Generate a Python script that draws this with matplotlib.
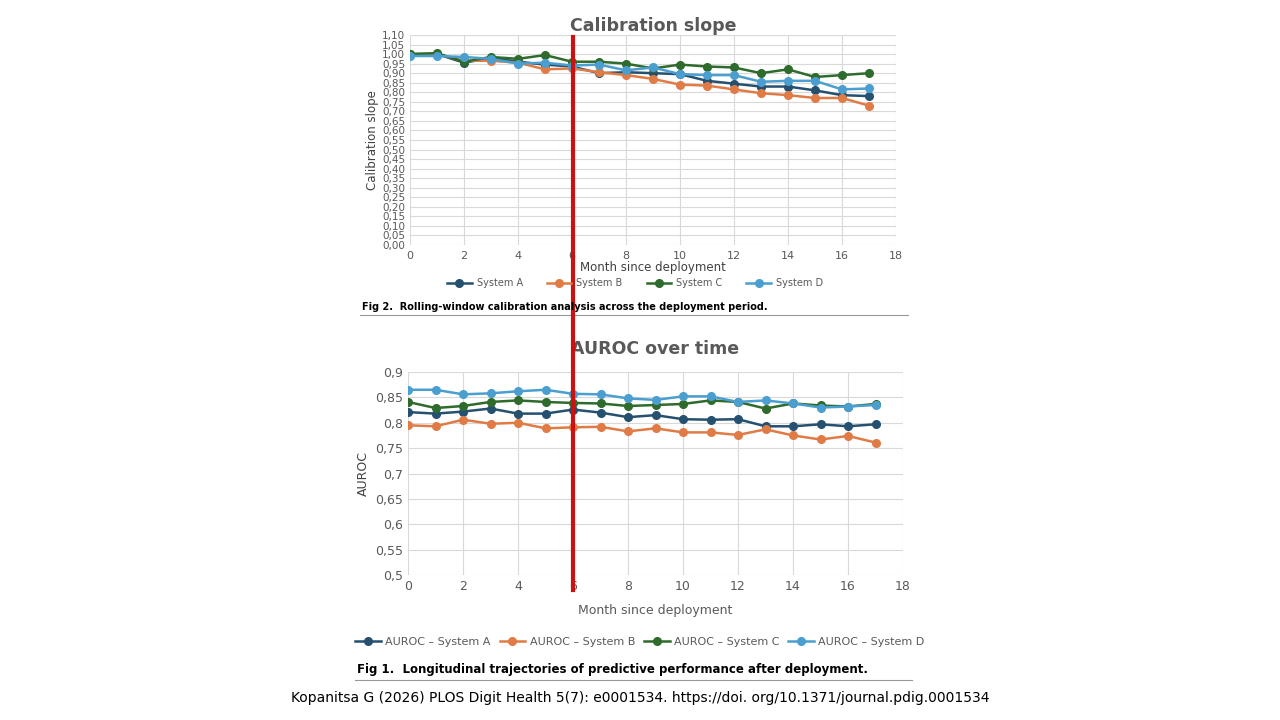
import matplotlib
matplotlib.use("Agg")
import matplotlib.pyplot as plt
from matplotlib.ticker import FuncFormatter, MultipleLocator

months = list(range(18))
cal_A = [1.00,1.00,0.955,0.98,0.96,0.945,0.935,0.90,0.905,0.90,0.895,0.86,0.845,0.83,0.83,0.81,0.785,0.78]
cal_B = [1.00,1.00,0.965,0.965,0.955,0.92,0.925,0.905,0.89,0.87,0.84,0.835,0.815,0.795,0.785,0.77,0.77,0.73]
cal_C = [1.00,1.005,0.96,0.985,0.975,0.995,0.96,0.96,0.95,0.925,0.945,0.935,0.93,0.90,0.92,0.88,0.89,0.90]
cal_D = [0.99,0.99,0.985,0.975,0.95,0.955,0.94,0.945,0.915,0.93,0.895,0.89,0.89,0.855,0.86,0.86,0.815,0.82]
au_A = [0.821,0.818,0.822,0.828,0.818,0.818,0.826,0.820,0.811,0.815,0.807,0.806,0.807,0.793,0.793,0.797,0.793,0.797]
au_B = [0.795,0.793,0.806,0.798,0.800,0.789,0.791,0.792,0.783,0.789,0.781,0.781,0.776,0.787,0.775,0.767,0.774,0.761]
au_C = [0.841,0.829,0.833,0.841,0.844,0.841,0.839,0.838,0.833,0.835,0.837,0.844,0.841,0.828,0.838,0.834,0.832,0.837]
au_D = [0.865,0.865,0.856,0.858,0.862,0.865,0.857,0.856,0.848,0.845,0.852,0.852,0.841,0.844,0.838,0.830,0.832,0.835]
colors = ["#25506f", "#e07b45", "#2e6b2c", "#4a9fd0"]
cal_names = ["System A", "System B", "System C", "System D"]
au_names = ["AUROC – System A", "AUROC – System B", "AUROC – System C", "AUROC – System D"]

W, H = 1280, 720
fig = plt.figure(figsize=(12.8, 7.2), dpi=100)
def box(x0, y0, x1, y1):
    return [x0/W, 1-y1/H, (x1-x0)/W, (y1-y0)/H]
comma = FuncFormatter(lambda v, p: f"{v:.2f}".replace(".", ","))
comma_s = FuncFormatter(lambda v, p: (f"{v:.2f}".rstrip("0").rstrip(".") if v != 0.5 else "0,5").replace(".", ","))
gc = "#d9d9d9"; tc = "#595959"

def style(ax):
    for s in ax.spines.values(): s.set_visible(False)
    ax.grid(True, color=gc, lw=0.8)
    ax.tick_params(length=0, colors=tc, labelsize=8)
    ax.set_xlim(0, 18); ax.xaxis.set_major_locator(MultipleLocator(2))
    ax.set_axisbelow(True)

ax1 = fig.add_axes(box(410, 35, 896, 245))
style(ax1)
for v, c, n in zip([cal_A, cal_B, cal_C, cal_D], colors, cal_names):
    ax1.plot(months, v, color=c, marker="o", ms=5.5, lw=1.8, label=n)
ax1.set_ylim(0, 1.10); ax1.yaxis.set_major_locator(MultipleLocator(0.05))
ax1.yaxis.set_major_formatter(comma)
ax1.tick_params(axis="y", labelsize=7.5)
ax1.tick_params(axis="x", pad=4)
ax1.set_title("Calibration slope", fontsize=12.5, fontweight="bold", color=tc, pad=2)
ax1.set_ylabel("Calibration slope", fontsize=8.5, color="#404040", labelpad=2)
ax1.set_xlabel("Month since deployment", fontsize=8.5, color="#404040", labelpad=0)
fig.legend(*ax1.get_legend_handles_labels(), loc="center", bbox_to_anchor=(635/W, 1-283/H), ncol=4,
           frameon=False, fontsize=7, labelcolor=tc, handlelength=2.5, columnspacing=2.5, handletextpad=0.5)

ax2 = fig.add_axes(box(408, 372, 903, 575))
style(ax2)
for v, c, n in zip([au_A, au_B, au_C, au_D], colors, au_names):
    ax2.plot(months, v, color=c, marker="o", ms=5.5, lw=1.8, label=n)
ax2.set_ylim(0.5, 0.9); ax2.yaxis.set_major_locator(MultipleLocator(0.05))
ax2.yaxis.set_major_formatter(comma_s)
ax2.tick_params(labelsize=9)
ax2.set_title("AUROC over time", fontsize=12.5, fontweight="bold", color=tc, pad=13)
ax2.set_ylabel("AUROC", fontsize=9, color="#404040")
ax2.set_xlabel("Month since deployment", fontsize=9, color=tc, labelpad=8)
fig.legend(*ax2.get_legend_handles_labels(), loc="center", bbox_to_anchor=(640/W, 1-642/H), ncol=4,
           frameon=False, fontsize=8, labelcolor=tc, handlelength=2.3, columnspacing=0.8, handletextpad=0.4)

fig.text(362/W, 1-307/H, "Fig 2.  Rolling-window calibration analysis across the deployment period.",
         fontsize=7, fontweight="bold", va="center")
fig.add_artist(plt.Line2D([360/W, 908/W], [1-315/H]*2, color="#999999", lw=0.8))
fig.text(357/W, 1-670/H, "Fig 1.  Longitudinal trajectories of predictive performance after deployment.",
         fontsize=8.5, fontweight="bold", va="center")
fig.add_artist(plt.Line2D([355/W, 912/W], [1-680/H]*2, color="#999999", lw=0.8))
fig.text(0.5, 1-698/H, "Kopanitsa G (2026) PLOS Digit Health 5(7): e0001534. https://doi. org/10.1371/journal.pdig.0001534",
         fontsize=10, ha="center", va="center")
fig.add_artist(plt.Line2D([573/W]*2, [1-37/H, 1-590/H], color="#cc1111", lw=3))
fig.savefig("out.png", dpi=100)
